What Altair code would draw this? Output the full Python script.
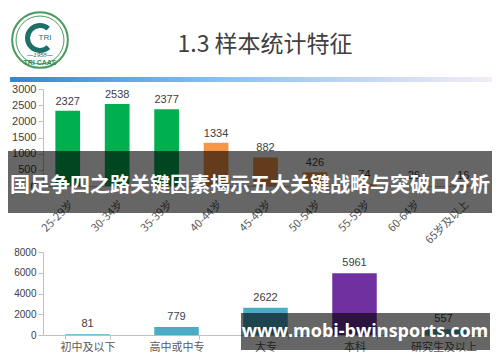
import altair as alt
import pandas as pd

# ---------------- data ----------------
title_text = "1.3 样本统计特征"
banner_text = "国足争四之路关键因素揭示五大关键战略与突破口分析"
watermark_text = "www.mobi-bwinsports.com"

age_groups = ["25-29岁", "30-34岁", "35-39岁", "40-44岁", "45-49岁",
              "50-54岁", "55-59岁", "60-64岁", "65岁及以上"]
age_counts = [2327, 2538, 2377, 1334, 882, 426, 74, 26, 16]
age_colors = ["#00b050", "#00b050", "#00b050", "#f79646", "#f79646",
              "#f79646", "#f79646", "#f79646", "#f79646"]
age_ticks = [0, 500, 1000, 1500, 2000, 2500, 3000]

edu_levels = ["初中及以下", "高中或中专", "大专", "本科", "研究生及以上"]
edu_counts = [81, 779, 2622, 5961, 557]
edu_colors = ["#4bacc6", "#4bacc6", "#4bacc6", "#7030a0", "#4bacc6"]
edu_ticks = [0, 2000, 4000, 6000, 8000]

# ---------------- layout constants ----------------
W = 445
L = 35
H0 = 74
H1 = 97
H2 = 83
CJK = "Noto Sans CJK SC"
NUM = "Liberation Sans"
AX = "#bfbfbf"

one = pd.DataFrame({"t": [title_text]})

# ---------------- header ----------------
grad = alt.LinearGradient(
    gradient="linear", x1=0, x2=1, y1=0, y2=0,
    stops=[alt.GradientStop(color="#2f86d8", offset=0),
           alt.GradientStop(color="#8fc2ee", offset=0.45),
           alt.GradientStop(color="#f4ecf7", offset=1)])

hdr_title = alt.Chart(one).mark_text(fontSize=23, color="#404040", font=CJK).encode(
    x=alt.value(222), y=alt.value(37), text="t:N")
hdr_line = alt.Chart(one).mark_rect(color=grad).encode(
    x=alt.value(-33), x2=alt.value(W + 4), y=alt.value(69), y2=alt.value(74))
logo_outer = alt.Chart(one).mark_point(shape="circle", filled=False, stroke="#4a9a5e",
                                       strokeWidth=2, size=3100, opacity=1).encode(
    x=alt.value(-3), y=alt.value(32))
logo_inner = alt.Chart(one).mark_point(shape="circle", filled=False, stroke="#4a9a5e",
                                       strokeWidth=1, size=2300, opacity=1).encode(
    x=alt.value(-3), y=alt.value(32))
logo_arc = alt.Chart(one).mark_arc(radius=15, radius2=10, theta=2.4, theta2=7.0,
                                   color="#1e6f6a").encode(
    x=alt.value(-3), y=alt.value(30))
logo_tri = alt.Chart(pd.DataFrame({"t": ["TRI"]})).mark_text(
    fontSize=8, color="#1e6f6a", font=NUM).encode(x=alt.value(2), y=alt.value(30), text="t:N")
logo_year = alt.Chart(pd.DataFrame({"t": ["—1958—"]})).mark_text(
    fontSize=6, color="#1e6f6a", font=NUM, fontStyle="italic").encode(
    x=alt.value(-3), y=alt.value(47), text="t:N")
logo_caas = alt.Chart(pd.DataFrame({"t": ["TRI CAAS"]})).mark_text(
    fontSize=7, color="#2e8b57", font=NUM, fontWeight="bold").encode(
    x=alt.value(-3), y=alt.value(55), text="t:N")

header = alt.layer(hdr_line, logo_outer, logo_inner, logo_arc, logo_tri, logo_year,
                   logo_caas, hdr_title).properties(width=W, height=H0)

# ---------------- age chart ----------------
age_df = pd.DataFrame({"age": age_groups, "n": age_counts, "c": age_colors})
xA = alt.X("age:N", sort=age_groups,
           scale=alt.Scale(paddingInner=0.5, paddingOuter=0.25),
           axis=alt.Axis(title=None, labelAngle=-45, labelFontSize=11, labelFont=CJK,
                         labelColor="#595959", domainColor=AX, ticks=False,
                         labelPadding=12, labelOverlap=False))
yA = alt.Y("n:Q", scale=alt.Scale(domain=[0, 3000]),
           axis=alt.Axis(title=None, values=age_ticks, format="d", grid=False,
                         labelFontSize=11, labelFont=NUM, labelColor="#404040",
                         labelOverlap=False, labelFlush=False, domainColor=AX,
                         tickColor=AX, tickSize=5, labelPadding=2))
age_bars = alt.Chart(age_df).mark_bar().encode(
    x=xA, y=yA, color=alt.Color("c:N", scale=None))
age_lbl = alt.Chart(age_df).mark_text(baseline="bottom", dy=-4, fontSize=11, font=NUM,
                                      color="#404040").encode(
    x=xA, y=yA, text="n:Q")
banner = alt.Chart(one).mark_rect(color="black", opacity=0.6).encode(
    x=alt.value(-L), x2=alt.value(W + 4), y=alt.value(62), y2=alt.value(124))
banner_t = alt.Chart(pd.DataFrame({"t": [banner_text]})).mark_text(
    fontSize=20, fontWeight="bold", color="white", font=CJK).encode(
    x=alt.value(207), y=alt.value(97), text="t:N")
age_chart = alt.layer(age_bars, age_lbl, banner, banner_t).properties(width=W, height=H1)

# ---------------- education chart ----------------
edu_df = pd.DataFrame({"edu": edu_levels, "n": edu_counts, "c": edu_colors})
xB = alt.X("edu:N", sort=edu_levels,
           scale=alt.Scale(paddingInner=0.5, paddingOuter=0.25),
           axis=alt.Axis(title=None, labelAngle=0, labelFontSize=11, labelFont=CJK,
                         labelColor="#595959", domainColor=AX, tickColor=AX,
                         tickBand="extent", tickSize=4, labelPadding=2))
yB = alt.Y("n:Q", scale=alt.Scale(domain=[0, 8000]),
           axis=alt.Axis(title=None, values=edu_ticks, format="d", grid=False,
                         labelFontSize=10, labelFont=NUM, labelColor="#404040",
                         labelOverlap=False, labelFlush=False, domainColor=AX,
                         tickColor=AX, tickSize=5, labelPadding=2))
edu_bars = alt.Chart(edu_df).mark_bar().encode(
    x=xB, y=yB, color=alt.Color("c:N", scale=None))
edu_lbl = alt.Chart(edu_df).mark_text(baseline="bottom", dy=-5, fontSize=11, font=NUM,
                                      color="#404040").encode(
    x=xB, y=yB, text="n:Q")
wm = alt.Chart(one).mark_rect(color="black", opacity=0.6).encode(
    x=alt.value(198), x2=alt.value(447), y=alt.value(61), y2=alt.value(98))
wm_t = alt.Chart(pd.DataFrame({"t": [watermark_text]})).mark_text(
    fontSize=18, fontWeight="bold", color="white", font="Open Sans").encode(
    x=alt.value(322), y=alt.value(80), text="t:N")
edu_chart = alt.layer(edu_bars, edu_lbl, wm, wm_t).properties(width=W, height=H2)

chart = alt.vconcat(header, age_chart, edu_chart, spacing=1).properties(
    padding=0, background="white"
).configure_view(stroke=None)

chart.save("out.html", embed_options={"renderer": "svg", "actions": False})
